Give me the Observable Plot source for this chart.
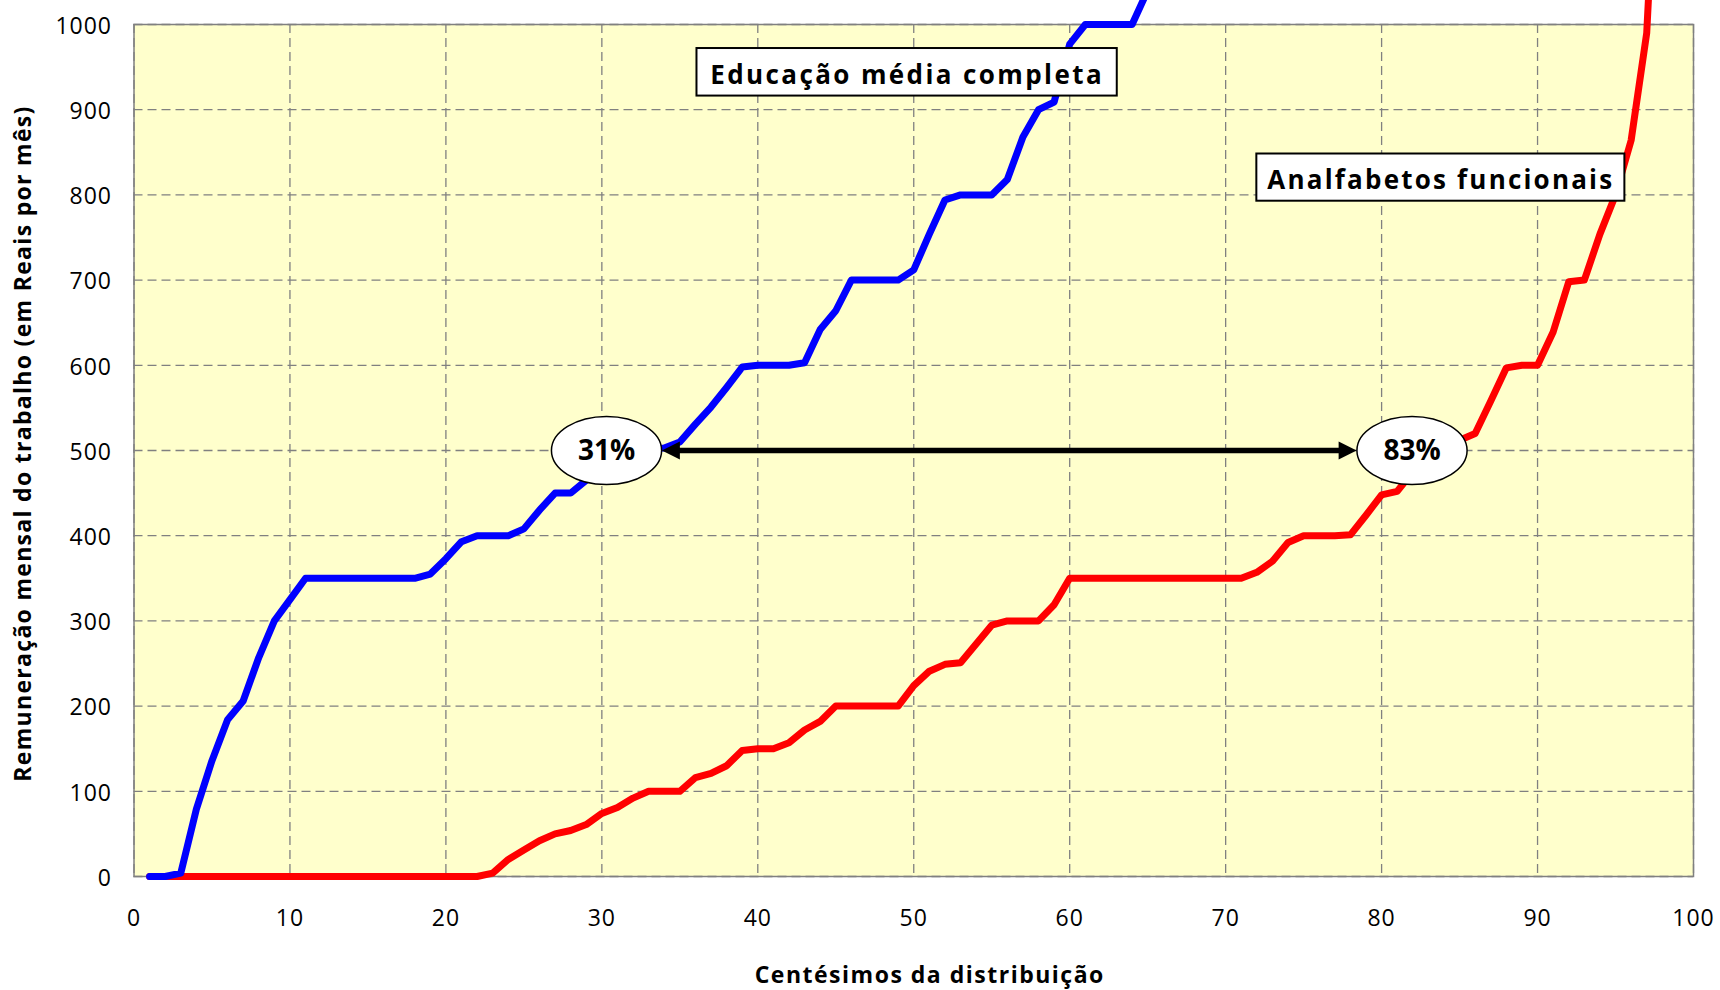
<!DOCTYPE html>
<html>
<head>
<meta charset="utf-8">
<script src="https://cdn.jsdelivr.net/npm/d3@7"></script>
<script src="https://cdn.jsdelivr.net/npm/@observablehq/plot@0.6"></script>
<style>
  html, body { margin: 0; padding: 0; background: #ffffff; }
  #chart svg { display: block; }
</style>
</head>
<body>
<div id="chart"></div>
<script>
// ---- Data ----
const percentisEducacao = d3.range(1, 66);
const rendaEducacao = [
  0, 0, 4, 79, 136, 184, 206, 257, 300, 325,
  350, 350, 350, 350, 350, 350, 350, 350, 355, 373,
  393, 400, 400, 400, 408, 430, 450, 450, 465, 482,
  496, 500, 502, 503, 510, 531, 551, 574, 598, 600,
  600, 600, 603, 642, 664, 700, 700, 700, 700, 712,
  754, 794, 800, 800, 800, 818, 868, 900, 909, 977,
  1000, 1000, 1000, 1000, 1040
];
const percentisAnalfabetos = d3.range(1, 99);
const rendaAnalfabetos = [
  0, 0, 0, 0, 0, 0, 0, 0, 0, 0,
  0, 0, 0, 0, 0, 0, 0, 0, 0, 0,
  0, 0, 4, 20, 31, 42, 50, 54, 61, 74,
  81, 92, 100, 100, 100, 116, 121, 130, 148, 150,
  150, 157, 172, 182, 200, 200, 200, 200, 200, 224,
  241, 249, 251, 273, 295, 300, 300, 300, 319, 350,
  350, 350, 350, 350, 350, 350, 350, 350, 350, 350,
  350, 357, 370, 392, 400, 400, 400, 401, 424, 448,
  452, 475, 497, 505, 512, 520, 558, 597, 600, 600,
  639, 698, 700, 754, 800, 864, 990, 1350
];
const xTicks = d3.range(0, 101, 10);
const yTicks = d3.range(0, 1001, 100);
const nomesSeries = ["Educação média completa", "Analfabetos funcionais"];
const rotulosPercentuais = ["31%", "83%"];
const percentisMarcados = [30.3, 81.95];
const rendaReferencia = 500;
const tituloX = "Centésimos da distribuição";
const tituloY = "Remuneração mensal do trabalho (em Reais por mês)";

// ---- Tables built from the arrays ----
const educacao = percentisEducacao.map((p, i) => ({p, v: rendaEducacao[i]}));
const analfabetos = percentisAnalfabetos.map((p, i) => ({p, v: rendaAnalfabetos[i]}));
const marcadores = rotulosPercentuais.map((t, i) => ({t, x: percentisMarcados[i], y: rendaReferencia}));
// label boxes (anchored in data space)
const caixas = [
  {t: nomesSeries[0], x1: 36.1, x2: 63.05, y1: 916, y2: 971.8},
  {t: nomesSeries[1], x1: 72.0, x2: 95.6, y1: 792.6, y2: 848}
].map(d => ({...d, x: (d.x1 + d.x2) / 2, y: (d.y1 + d.y2) / 2}));
const seta = {x1: 33.85, x2: 78.4, y: rendaReferencia};

// ---- Custom symbols ----
const elipse = {
  draw(ctx, size) {
    const ry = Math.sqrt(size / Math.PI), rx = ry * 1.62, k = 0.5523;
    ctx.moveTo(rx, 0);
    ctx.bezierCurveTo(rx, k * ry, k * rx, ry, 0, ry);
    ctx.bezierCurveTo(-k * rx, ry, -rx, k * ry, -rx, 0);
    ctx.bezierCurveTo(-rx, -k * ry, -k * rx, -ry, 0, -ry);
    ctx.bezierCurveTo(k * rx, -ry, rx, -k * ry, rx, 0);
    ctx.closePath();
  }
};
const pontaDireita = {draw(ctx) { ctx.moveTo(0, 0); ctx.lineTo(-18, -9); ctx.lineTo(-18, 9); ctx.closePath(); }};
const pontaEsquerda = {draw(ctx) { ctx.moveTo(0, 0); ctx.lineTo(18, -9); ctx.lineTo(18, 9); ctx.closePath(); }};

const fonte = "'Open Sans', 'Noto Sans', sans-serif";
const grade = {stroke: "#808080", strokeOpacity: 1, strokeWidth: 1.3, strokeDasharray: "9,5"};

const plot = Plot.plot({
  width: 1720,
  height: 990,
  marginLeft: 133.5,
  marginRight: 27,
  marginTop: 24,
  marginBottom: 114,
  x: {domain: [0, 100]},
  y: {domain: [0, 1000]},
  style: {fontFamily: fonte, fontSize: "23px", color: "#000", background: "#fff"},
  marks: [
    Plot.frame({fill: "#FFFFCC", stroke: null}),
    Plot.gridY(yTicks, grade),
    Plot.gridX(xTicks, grade),
    Plot.frame({stroke: "#808080", strokeWidth: 1.5}),
    Plot.axisX(xTicks, {tickSize: 0, tickPadding: 33, label: null, fontSize: 23, fill: "#000", tickFormat: d => String(d)}),
    Plot.axisY(yTicks, {tickSize: 0, tickPadding: 22, label: null, fontSize: 23, fill: "#000", dy: 2, tickFormat: d => String(d)}),
    Plot.line(analfabetos, {x: "p", y: "v", stroke: "#FF0000", strokeWidth: 7, strokeLinejoin: "round", strokeLinecap: "round"}),
    Plot.line(educacao, {x: "p", y: "v", stroke: "#0000FF", strokeWidth: 7, strokeLinejoin: "round", strokeLinecap: "round"}),
    Plot.ruleY([seta], {y: "y", x1: d => d.x1 + 1, x2: d => d.x2 - 1, stroke: "#000", strokeWidth: 5.5}),
    Plot.dot([seta], {x: "x1", y: "y", symbol: pontaEsquerda, r: 1, fill: "#000", stroke: null}),
    Plot.dot([seta], {x: "x2", y: "y", symbol: pontaDireita, r: 1, fill: "#000", stroke: null}),
    Plot.dot(marcadores, {x: "x", y: "y", symbol: elipse, r: 34, fill: "#fff", stroke: "#000", strokeWidth: 1.5}),
    Plot.text(marcadores, {x: "x", y: "y", text: "t", fontSize: 28, fontWeight: "bold", fill: "#000", dy: 1}),
    Plot.rect(caixas, {x1: "x1", x2: "x2", y1: "y1", y2: "y2", fill: "#fff", stroke: "#000", strokeWidth: 2}),
    Plot.text(caixas, {x: "x", y: "y", text: "t", fontSize: 26, fontWeight: "bold", fill: "#000", dy: 3}),
    Plot.text([tituloX], {frameAnchor: "bottom", textAnchor: "middle", dx: 16, dy: 106, fontSize: 23, fontWeight: "bold", fill: "#000"}),
    Plot.text([tituloY], {frameAnchor: "left", textAnchor: "middle", rotate: -90, dx: -110, dy: -7, fontSize: 23, fontWeight: "bold", fill: "#000"})
  ]
});

document.getElementById("chart").append(plot);

// letter spacing tweaks (style only)
const svg = d3.select(plot);
svg.selectAll('g[aria-label="x-axis tick label"] text, g[aria-label="y-axis tick label"] text').style("letter-spacing", "1px");
const espacamento = {
  [nomesSeries[0]]: "2.4px",
  [nomesSeries[1]]: "2.2px",
  [tituloX]: "1.5px",
  [tituloY]: "1.3px"
};
svg.selectAll("text").each(function() {
  const s = espacamento[this.textContent];
  if (s) d3.select(this).style("letter-spacing", s);
});
</script>
</body>
</html>
